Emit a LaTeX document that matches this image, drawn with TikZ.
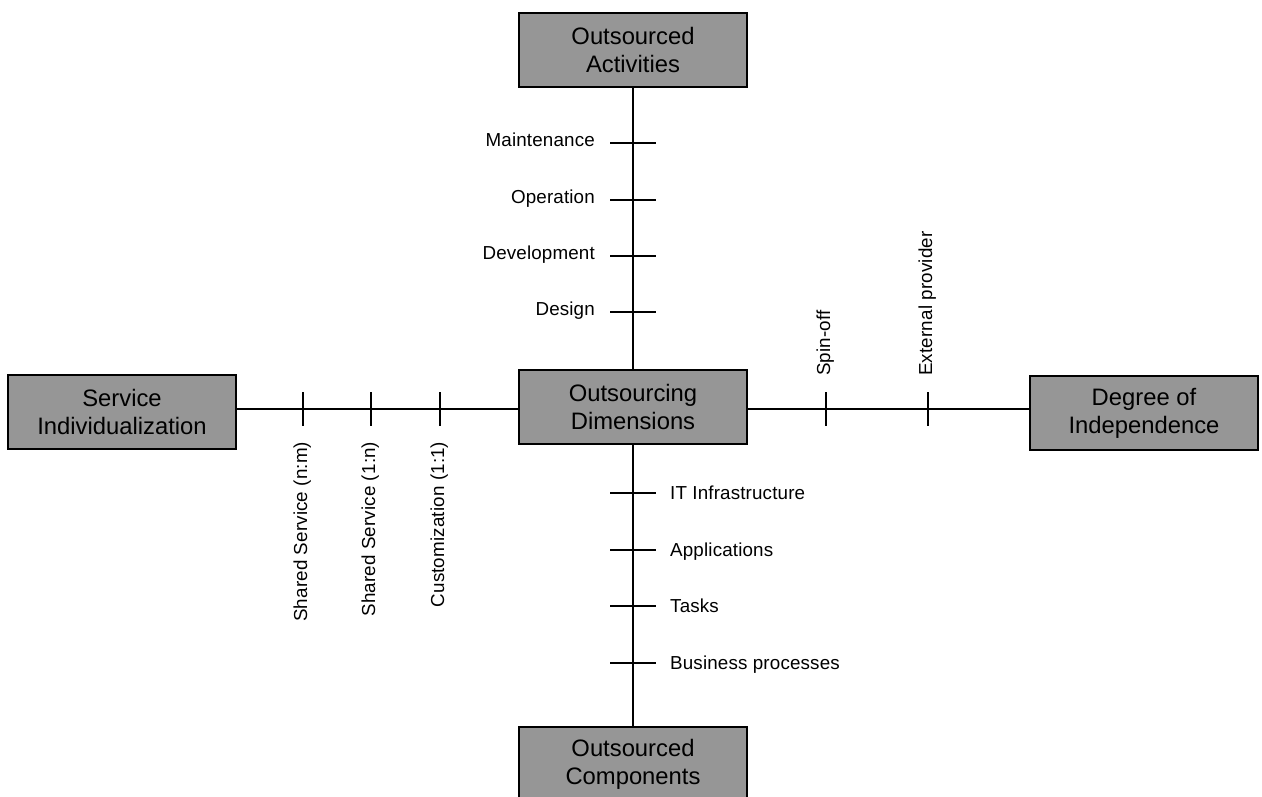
\documentclass[tikz,border=0pt]{standalone}
\usepackage{fontspec}
\setmainfont{Liberation Sans}
\newfontfamily\labfam[LetterSpace=0.8]{Liberation Sans}
\newcommand{\boxfnt}{\fontsize{23.8}{28.3}\selectfont}
\newcommand{\labfnt}{\labfam\fontsize{18.8}{22}\selectfont}
\definecolor{boxgray}{RGB}{150,150,150}
\tikzset{
  dimbox/.style={draw=black, fill=boxgray, line width=2pt, minimum width=228pt,
    minimum height=74pt, inner sep=0pt, align=center, font=\boxfnt},
  axis/.style={line width=2pt, black},
  tick/.style={line width=2pt, black},
  lab/.style={font=\labfnt, inner sep=0pt, text=black},
}
\begin{document}
\begin{tikzpicture}[x=1pt,y=-1pt]
\useasboundingbox (0,0) rectangle (1262,796);
\clip (0,0) rectangle (1262,796);
\fill[white] (0,0) rectangle (1262,796);

% boxes
\node[dimbox] (top) at (633,50) {Outsourced\\Activities};
\node[dimbox] (cen) at (633,407) {Outsourcing\\Dimensions};
\node[dimbox] (lft) at (122,412) {Service\\Individualization};
\node[dimbox] (rgt) at (1144,413) {Degree of\\Independence};
\node[dimbox] (bot) at (633,764) {Outsourced\\Components};

% axes
\coordinate (hy) at (0,409);
\draw[axis] (top.south) -- (cen.north);
\draw[axis] (cen.south) -- (bot.north);
\draw[axis] (lft.east |- hy) -- (cen.west |- hy);
\draw[axis] (cen.east |- hy) -- (rgt.west |- hy);

% top ticks
\foreach \y/\t [count=\i] in {143/Maintenance, 200/Operation, 256/Development, 312/Design}{
  \coordinate (ta\i) at (610,\y);
  \coordinate (tb\i) at (656,\y);
  \draw[tick] (ta\i) -- (tb\i);
  \node[lab, anchor=base east] (tl\i) at (595,\y+3) {\t};
}
% bottom ticks
\foreach \y/\t [count=\i] in {493/IT Infrastructure, 550/Applications, 606/Tasks, 663/Business processes}{
  \coordinate (ba\i) at (610,\y);
  \coordinate (bb\i) at (656,\y);
  \draw[tick] (ba\i) -- (bb\i);
  \node[lab, anchor=base west] (bl\i) at (670,\y+6.3) {\t};
}
% left ticks
\foreach \x/\t [count=\i] in {303/Shared Service (n:m), 371/Shared Service (1:n), 440/Customization (1:1)}{
  \coordinate (la\i) at (\x,392);
  \coordinate (lb\i) at (\x,426);
  \draw[tick] (la\i) -- (lb\i);
  \node[lab, rotate=90, anchor=base east] (ll\i) at (\x+4,441.5) {\t};
}
% right ticks
\foreach \x/\t [count=\i] in {826/Spin-off, 928/External provider}{
  \coordinate (ra\i) at (\x,392);
  \coordinate (rb\i) at (\x,426);
  \draw[tick] (ra\i) -- (rb\i);
  \node[lab, rotate=90, anchor=base west] (rl\i) at (\x+4,376) {\t};
}
\end{tikzpicture}
\end{document}
